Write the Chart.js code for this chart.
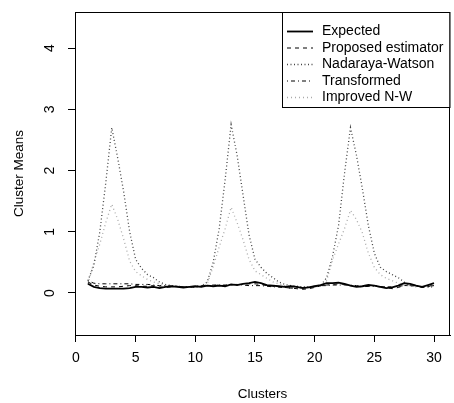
<!DOCTYPE html>
<html>
<head>
<meta charset="utf-8">
<script src="https://cdn.jsdelivr.net/npm/chart.js@4"></script>
<style>
  body { margin: 0; background: #fff; }
</style>
</head>
<body>
<canvas id="chart" width="454" height="403"></canvas>
<script>
// positions along the cluster axis (half steps)
const clusters = [1, 1.5, 2, 2.5, 3, 3.5, 4, 4.5, 5, 5.5,
  6, 6.5, 7, 7.5, 8, 8.5, 9, 9.5, 10, 10.5,
  11, 11.5, 12, 12.5, 13, 13.5, 14, 14.5, 15, 15.5,
  16, 16.5, 17, 17.5, 18, 18.5, 19, 19.5, 20, 20.5,
  21, 21.5, 22, 22.5, 23, 23.5, 24, 24.5, 25, 25.5,
  26, 26.5, 27, 27.5, 28, 28.5, 29, 29.5, 30];

const expected = [0.15, 0.10, 0.08, 0.07, 0.07, 0.07, 0.07, 0.08, 0.10, 0.10,
  0.09, 0.10, 0.08, 0.10, 0.11, 0.10, 0.09, 0.10, 0.11, 0.10,
  0.12, 0.11, 0.12, 0.11, 0.14, 0.13, 0.15, 0.16, 0.18, 0.16,
  0.13, 0.12, 0.11, 0.10, 0.11, 0.10, 0.08, 0.09, 0.11, 0.13,
  0.16, 0.16, 0.17, 0.15, 0.12, 0.10, 0.11, 0.13, 0.12, 0.10,
  0.08, 0.09, 0.12, 0.16, 0.15, 0.12, 0.10, 0.13, 0.16];

const proposed = [0.18, 0.13, 0.11, 0.10, 0.10, 0.10, 0.11, 0.12, 0.12, 0.11,
  0.11, 0.12, 0.10, 0.09, 0.10, 0.11, 0.10, 0.09, 0.10, 0.11,
  0.12, 0.12, 0.13, 0.12, 0.13, 0.14, 0.14, 0.15, 0.15, 0.14,
  0.12, 0.11, 0.10, 0.09, 0.08, 0.07, 0.06, 0.07, 0.09, 0.12,
  0.13, 0.14, 0.15, 0.14, 0.12, 0.11, 0.10, 0.11, 0.12, 0.11,
  0.09, 0.07, 0.09, 0.12, 0.14, 0.12, 0.09, 0.10, 0.14];

const nadarayaWatson = [0.20, 0.45, 1.00, 1.80, 2.70, 2.20, 1.65, 1.00, 0.55, 0.40,
  0.30, 0.25, 0.18, 0.14, 0.12, 0.11, 0.10, 0.10, 0.10, 0.11,
  0.18, 0.50, 1.05, 1.85, 2.75, 2.25, 1.60, 0.95, 0.55, 0.42,
  0.32, 0.25, 0.18, 0.14, 0.12, 0.11, 0.10, 0.10, 0.10, 0.12,
  0.25, 0.60, 1.10, 1.95, 2.70, 2.25, 1.70, 1.10, 0.65, 0.42,
  0.35, 0.30, 0.25, 0.18, 0.13, 0.11, 0.10, 0.10, 0.10];

const transformed = [0.20, 0.16, 0.15, 0.15, 0.15, 0.15, 0.15, 0.15, 0.14, 0.14,
  0.14, 0.13, 0.12, 0.12, 0.11, 0.11, 0.10, 0.10, 0.11, 0.12,
  0.12, 0.13, 0.13, 0.13, 0.14, 0.14, 0.13, 0.12, 0.12, 0.12,
  0.11, 0.10, 0.10, 0.09, 0.08, 0.08, 0.09, 0.10, 0.11, 0.12,
  0.12, 0.13, 0.13, 0.13, 0.13, 0.12, 0.11, 0.11, 0.11, 0.10,
  0.10, 0.10, 0.11, 0.12, 0.12, 0.11, 0.10, 0.11, 0.12];

const improvedNW = [0.15, 0.50, 0.80, 1.15, 1.45, 1.20, 0.88, 0.52, 0.35, 0.28,
  0.22, 0.18, 0.15, 0.12, 0.11, 0.10, 0.10, 0.10, 0.10, 0.10,
  0.15, 0.43, 0.75, 1.05, 1.40, 1.15, 0.87, 0.55, 0.36, 0.30,
  0.24, 0.18, 0.15, 0.12, 0.11, 0.10, 0.10, 0.10, 0.10, 0.11,
  0.20, 0.54, 0.80, 1.05, 1.35, 1.20, 0.98, 0.65, 0.42, 0.30,
  0.24, 0.20, 0.16, 0.13, 0.11, 0.10, 0.10, 0.10, 0.10];

const xTicks = [0, 5, 10, 15, 20, 25, 30];
const yTicks = [0, 1, 2, 3, 4];

const fontFam = '"Liberation Sans", Arial, sans-serif';

function pts(ys) {
  return clusters.map((x, i) => ({ x: x, y: ys[i] }));
}

// R style box round the plot, sideways y tick labels and a boxed legend
const rBox = {
  id: 'rBox',
  afterDraw(chart) {
    const ctx = chart.ctx;
    const a = chart.chartArea;
    const ys = chart.scales.y;
    ctx.save();
    ctx.strokeStyle = '#000';
    ctx.lineWidth = 1;
    ctx.setLineDash([]);
    ctx.strokeRect(a.left + 0.5, a.top + 0.5, a.right - a.left - 1, a.bottom - a.top);

    // y tick labels read bottom to top, like R's default las=0
    ctx.fillStyle = '#000';
    ctx.font = '14px ' + fontFam;
    ctx.textAlign = 'center';
    ctx.textBaseline = 'middle';
    yTicks.forEach(v => {
      ctx.save();
      ctx.translate(50, ys.getPixelForValue(v));
      ctx.rotate(-Math.PI / 2);
      ctx.fillText(String(v), 0, 0);
      ctx.restore();
    });

    const lx = 282, ly = a.top + 0.5, lw = a.right - 282 - 0.5, lh = 95;
    ctx.fillStyle = '#fff';
    ctx.fillRect(lx, ly, lw, lh);
    ctx.strokeRect(lx + 0.5, ly, lw, lh);
    ctx.textAlign = 'left';
    chart.data.datasets.forEach((ds, i) => {
      const y = ly + 19 + i * 16.5;
      ctx.beginPath();
      ctx.strokeStyle = ds.borderColor;
      ctx.lineWidth = ds.borderWidth;
      ctx.setLineDash(ds.borderDash || []);
      ctx.moveTo(287, y);
      ctx.lineTo(313, y);
      ctx.stroke();
      ctx.setLineDash([]);
      ctx.fillStyle = '#000';
      ctx.fillText(ds.label, 322, y);
    });
    ctx.restore();
  }
};

new Chart(document.getElementById('chart'), {
  type: 'line',
  data: {
    datasets: [
      { label: 'Expected', data: pts(expected), borderColor: '#000', borderWidth: 1.8 },
      { label: 'Proposed estimator', data: pts(proposed), borderColor: '#000', borderWidth: 1, borderDash: [4, 4] },
      { label: 'Nadaraya-Watson', data: pts(nadarayaWatson), borderColor: '#444', borderWidth: 1.3, borderDash: [1, 2.5] },
      { label: 'Transformed', data: pts(transformed), borderColor: '#000', borderWidth: 1, borderDash: [1, 3, 4, 3] },
      { label: 'Improved N-W', data: pts(improvedNW), borderColor: '#aaa', borderWidth: 1.3, borderDash: [1, 3] }
    ]
  },
  options: {
    responsive: false,
    animation: false,
    devicePixelRatio: 1,
    layout: { padding: { left: 0, right: 4, top: 12, bottom: 0 } },
    elements: { point: { radius: 0 }, line: { tension: 0 } },
    plugins: { legend: { display: false }, tooltip: { enabled: false } },
    scales: {
      x: {
        type: 'linear',
        min: -0.08,
        max: 31.34,
        afterBuildTicks: s => { s.ticks = xTicks.map(v => ({ value: v })); },
        afterFit: s => { s.height = 68; },
        grid: { drawOnChartArea: false, tickLength: 7, color: '#000', tickColor: '#000' },
        border: { color: '#000' },
        ticks: { color: '#000', font: { family: fontFam, size: 14 }, padding: 8, maxRotation: 0, autoSkip: false },
        title: { display: true, text: 'Clusters', color: '#000', font: { family: fontFam, size: 13.5 }, padding: { top: 0, bottom: 1 } }
      },
      y: {
        type: 'linear',
        min: -0.686,
        max: 4.588,
        afterBuildTicks: s => { s.ticks = yTicks.map(v => ({ value: v })); },
        afterFit: s => { s.width = 75; },
        grid: { drawOnChartArea: false, tickLength: 7, color: '#000', tickColor: '#000' },
        border: { color: '#000' },
        ticks: { display: false },
        title: { display: true, text: 'Cluster Means', color: '#000', font: { family: fontFam, size: 13.5 }, padding: { top: 11, bottom: 0 } }
      }
    }
  },
  plugins: [rBox]
});
</script>
</body>
</html>
